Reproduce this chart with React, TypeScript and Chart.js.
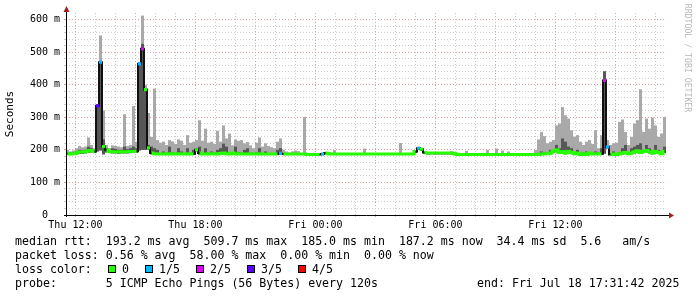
import React, { useEffect, useRef } from "react";
import { Chart, registerables } from "chart.js";

Chart.register(...registerables);

// ---- time axis (minutes since graph start, Thu 11:31:42) ----
const STEP_MIN = 9;
const SPAN_MIN = 1800;
const FIRST_LABEL_MIN = 28.3; // Thu 12:00
const xTickLabels = ["Thu 12:00", "Thu 18:00", "Fri 00:00", "Fri 06:00", "Fri 12:00"];
const yTickLabels = ["0  ", "100 m", "200 m", "300 m", "400 m", "500 m", "600 m"];

// ---- series (ms) ----
const medianRtt = [
  188, 187, 188, 190, 193, 193, 194, 197, 198, 195,
  335, 469, 210, 200, 195, 194, 194, 193, 194, 194,
  194, 195, 195, 196, 464, 510, 385, 206, 190, 188,
  187, 187, 187, 188, 187, 188, 187, 188, 187, 187,
  188, 187, 188, 200, 190, 187, 187, 188, 187, 188,
  187, 189, 190, 188, 187, 190, 188, 187, 188, 187,
  187, 188, 187, 187, 188, 187, 187, 187, 187, 187,
  187, 189, 187, 187, 187, 187, 187, 187, 187, 187,
  186, 186, 186, 186, 186, 187, 190, 188, 187, 187,
  187, 187, 187, 187, 187, 187, 187, 187, 187, 187,
  187, 187, 187, 187, 187, 187, 187, 187, 187, 187,
  187, 187, 187, 187, 187, 187, 195, 205, 202, 192,
  190, 190, 190, 190, 190, 190, 190, 190, 190, 188,
  186, 186, 186, 186, 186, 186, 186, 186, 186, 186,
  186, 186, 186, 186, 186, 186, 186, 186, 186, 186,
  186, 186, 186, 186, 186, 186, 186, 186, 187, 188,
  188, 190, 196, 200, 192, 195, 190, 196, 192, 188,
  190, 186, 188, 186, 190, 187, 188, 187, 188, 413,
  209, 186, 187, 186, 188, 190, 192, 188, 190, 194,
  197, 192, 195, 198, 194, 190, 196, 192, 188, 195,
];

const smokeMin = [
  185, 184, 185, 186, 188, 188, 189, 191, 192, 190,
  195, 198, 186, 192, 190, 189, 189, 188, 189, 189,
  189, 190, 190, 191, 198, 200, 200, 200, 186, 184,
  184, 184, 184, 184, 184, 184, 184, 184, 184, 184,
  184, 184, 184, 195, 185, 184, 184, 184, 184, 184,
  184, 184, 185, 184, 184, 185, 184, 184, 184, 184,
  184, 184, 184, 184, 184, 184, 184, 184, 184, 184,
  184, 184, 184, 184, 184, 184, 184, 184, 184, 184,
  184, 184, 184, 184, 184, 184, 186, 184, 184, 184,
  184, 184, 184, 184, 184, 184, 184, 184, 184, 184,
  184, 184, 184, 184, 184, 184, 184, 184, 184, 184,
  184, 184, 184, 184, 184, 184, 190, 200, 197, 188,
  186, 186, 186, 186, 186, 186, 186, 186, 186, 184,
  184, 184, 184, 184, 184, 184, 184, 184, 184, 184,
  184, 184, 184, 184, 184, 184, 184, 184, 184, 184,
  184, 184, 184, 184, 184, 184, 184, 184, 184, 184,
  184, 186, 191, 195, 187, 190, 186, 191, 187, 184,
  186, 184, 184, 184, 186, 184, 184, 184, 184, 188,
  204, 184, 184, 184, 184, 186, 187, 184, 186, 189,
  192, 187, 190, 193, 189, 186, 191, 187, 184, 190,
];

const smokeMax = [
  200, 195, 198, 205, 212, 208, 210, 238, 215, 205,
  340, 551, 321, 215, 205, 214, 212, 210, 208, 309,
  212, 215, 334, 225, 470, 612, 400, 313, 240, 388,
  230, 222, 225, 215, 230, 226, 218, 232, 228, 215,
  245, 222, 225, 230, 291, 228, 265, 222, 225, 218,
  258, 225, 275, 235, 250, 214, 232, 228, 230, 220,
  224, 214, 205, 222, 238, 210, 220, 212, 208, 205,
  225, 235, 200, 195, 192, 195, 198, 196, 190, 301,
  186, 186, 186, 186, 186, 187, 192, 188, 187, 199,
  187, 187, 187, 187, 187, 187, 187, 187, 187, 204,
  187, 187, 187, 187, 187, 187, 187, 187, 187, 187,
  187, 221, 187, 187, 187, 187, 195, 207, 204, 192,
  190, 190, 190, 190, 190, 190, 190, 190, 196, 188,
  186, 186, 186, 197, 186, 186, 186, 186, 186, 186,
  200, 186, 186, 204, 186, 198, 186, 195, 186, 186,
  186, 186, 186, 186, 186, 186, 200, 232, 255, 242,
  220, 225, 230, 275, 281, 331, 306, 296, 260, 240,
  245, 225, 215, 225, 230, 218, 260, 205, 245, 441,
  230, 215, 220, 222, 286, 293, 255, 215, 240, 281,
  291, 386, 255, 296, 265, 299, 275, 240, 250, 301,
];

const smokeDark = [
  192, 190, 191, 195, 200, 198, 200, 210, 205, 198,
  335, 470, 232, 205, 200, 205, 203, 200, 200, 210,
  202, 205, 210, 205, 464, 525, 386, 215, 210, 205,
  200, 188, 195, 188, 210, 192, 188, 205, 195, 188,
  205, 188, 200, 205, 210, 190, 205, 188, 195, 188,
  200, 205, 219, 210, 188, 190, 210, 192, 188, 200,
  205, 188, 187, 192, 205, 188, 195, 188, 187, 187,
  200, 205, 187, 187, 187, 187, 187, 187, 187, 187,
  186, 186, 186, 186, 186, 187, 190, 188, 187, 187,
  187, 187, 187, 187, 187, 187, 187, 187, 187, 187,
  187, 187, 187, 187, 187, 187, 187, 187, 187, 187,
  187, 187, 187, 187, 187, 187, 195, 205, 202, 192,
  190, 190, 190, 190, 190, 190, 190, 190, 190, 188,
  186, 186, 186, 186, 186, 186, 186, 186, 186, 186,
  186, 186, 186, 186, 186, 186, 186, 186, 186, 186,
  186, 186, 186, 186, 186, 186, 186, 190, 195, 188,
  188, 200, 196, 215, 205, 235, 225, 210, 205, 188,
  200, 186, 188, 195, 190, 187, 195, 187, 205, 441,
  209, 186, 195, 186, 188, 205, 215, 188, 205, 210,
  215, 220, 200, 215, 205, 190, 215, 200, 188, 210,
];

// loss events: sample index -> lost pings out of 5
const lossIndex = [10, 11, 24, 25, 71, 85, 117, 179, 180];
const lossCount = [3, 1, 1, 2, 1, 1, 1, 2, 1];

const lossColors = ["#26ff00", "#00b8ff", "#dd00ff", "#5e00ff", "#ff0000"];
const lossLabels = ["0", "1/5", "2/5", "3/5", "4/5"];

const statsRtt = "median rtt:  193.2 ms avg  509.7 ms max  185.0 ms min  187.2 ms now  34.4 ms sd  5.6   am/s";
const statsLoss = "packet loss: 0.56 % avg  58.00 % max  0.00 % min  0.00 % now";
const probeText = "probe:       5 ICMP Echo Pings (56 Bytes) every 120s";
const endText = "end: Fri Jul 18 17:31:42 2025";
const watermark = "RRDTOOL / TOBI OETIKER";

const MINOR = "#cccccc";
const MAJOR = "#e2a0a0";
const MONO = "'DejaVu Sans Mono', monospace";

const lossAt = (i: number) => {
  const k = lossIndex.indexOf(i);
  return k < 0 ? 0 : lossCount[k];
};
const isJump = (a: number, b: number) =>
  lossAt(a) !== lossAt(b) || Math.abs(medianRtt[b] - medianRtt[a]) > 8;

const axesPlugin = {
  id: "rrdAxes",
  afterDatasetsDraw(chart: any) {
    const { ctx, chartArea: a } = chart;
    ctx.save();
    ctx.strokeStyle = "#000";
    ctx.lineWidth = 1;
    ctx.beginPath();
    ctx.moveTo(a.left + 0.5, a.bottom + 2);
    ctx.lineTo(a.left + 0.5, a.top - 2);
    ctx.moveTo(a.left - 2, a.bottom + 0.5);
    ctx.lineTo(a.right + 3, a.bottom + 0.5);
    ctx.stroke();
    ctx.fillStyle = "#a0201c";
    ctx.beginPath();
    ctx.moveTo(a.left + 0.5, a.top - 7);
    ctx.lineTo(a.left - 2.5, a.top - 1);
    ctx.lineTo(a.left + 3.5, a.top - 1);
    ctx.closePath();
    ctx.fill();
    ctx.beginPath();
    ctx.moveTo(a.right + 8, a.bottom + 0.5);
    ctx.lineTo(a.right + 3, a.bottom - 2.5);
    ctx.lineTo(a.right + 3, a.bottom + 3.5);
    ctx.closePath();
    ctx.fill();
    ctx.restore();
  },
};

export default function App() {
  const ref = useRef<HTMLCanvasElement | null>(null);

  useEffect(() => {
    if (!ref.current) return;
    const t = (i: number) => i * STEP_MIN + STEP_MIN / 2;
    const hourTicks = Array.from({ length: 30 }, (_, k) => FIRST_LABEL_MIN + 60 * k);
    const yTicks = Array.from({ length: 31 }, (_, k) => 20 * k);

    const chart = new Chart(ref.current, {
      type: "bar",
      data: {
        datasets: [
          {
            type: "bar",
            label: "smoke",
            data: smokeMax.map((v, i) => ({ x: t(i), y: [smokeMin[i], v] })) as any,
            backgroundColor: "#a9a9a9",
            borderWidth: 0,
            grouped: false,
            barThickness: 3,
            inflateAmount: 0,
            order: 4,
          } as any,
          {
            type: "bar",
            label: "smoke core",
            data: smokeDark.map((v, i) => ({ x: t(i), y: [smokeMin[i], v] })) as any,
            backgroundColor: "#575757",
            borderWidth: 0,
            grouped: false,
            barThickness: 3,
            inflateAmount: 0,
            order: 3,
          } as any,
          {
            type: "line",
            label: "median",
            data: medianRtt.map((v, i) => ({ x: t(i), y: v })) as any,
            borderColor: "#111111",
            borderWidth: 2,
            stepped: "middle",
            pointRadius: 0,
            order: 2,
          } as any,
          {
            type: "line",
            label: "median loss",
            data: medianRtt.map((v, i) => ({ x: t(i), y: v })) as any,
            borderColor: lossColors[0],
            borderWidth: 3,
            stepped: "middle",
            segment: {
              borderColor: (c: any) =>
                isJump(c.p0DataIndex, c.p1DataIndex)
                  ? "rgba(0,0,0,0)"
                  : lossColors[lossAt(c.p0DataIndex)],
            },
            pointStyle: "rect",
            pointBorderWidth: 0,
            pointRadius: (c: any) => {
              const i = c.dataIndex;
              const n = medianRtt.length;
              const iso = (i === 0 || isJump(i - 1, i)) && (i === n - 1 || isJump(i, i + 1));
              return lossAt(i) > 0 || iso ? 2.2 : 0;
            },
            pointBackgroundColor: (c: any) => lossColors[lossAt(c.dataIndex)],
            order: 1,
          } as any,
        ],
      },
      options: {
        responsive: false,
        animation: false,
        devicePixelRatio: 1,
        layout: { padding: { top: 13, right: 31, bottom: 62, left: 0 } },
        plugins: { legend: { display: false }, tooltip: { enabled: false } },
        scales: {
          x: {
            type: "linear",
            min: 0,
            max: SPAN_MIN,
            offset: false,
            afterBuildTicks: (s: any) => {
              s.ticks = hourTicks.map((v) => ({ value: v }));
            },
            afterFit: (s: any) => {
              s.height = 20;
            },
            ticks: {
              autoSkip: false,
              maxRotation: 0,
              padding: 2,
              color: "#000",
              font: { family: MONO, size: 10 },
              callback: (_v: any, i: number) => (i % 6 === 0 ? xTickLabels[i / 6] : ""),
            },
            grid: {
              offset: false,
              color: (c: any) => (c.index % 3 === 0 ? MAJOR : MINOR),
              lineWidth: 1,
              drawTicks: true,
              tickLength: 2,
            },
            border: { display: false, dash: [1, 2] },
          },
          y: {
            type: "linear",
            min: 0,
            max: 620,
            afterBuildTicks: (s: any) => {
              s.ticks = yTicks.map((v) => ({ value: v }));
            },
            afterFit: (s: any) => {
              s.width = 66;
            },
            ticks: {
              autoSkip: false,
              padding: 4,
              color: "#000",
              font: { family: MONO, size: 10 },
              callback: (_v: any, i: number) => (i % 5 === 0 ? yTickLabels[i / 5] : ""),
            },
            grid: {
              color: (c: any) => (c.index % 5 === 0 ? MAJOR : MINOR),
              lineWidth: 1,
              drawTicks: true,
              tickLength: 2,
            },
            border: { display: false, dash: [1, 2] },
            title: {
              display: true,
              text: "Seconds",
              color: "#000",
              font: { family: MONO, size: 11 },
              padding: { top: 4, bottom: 0 },
            },
          },
        },
      } as any,
      plugins: [axesPlugin],
    });
    return () => chart.destroy();
  }, []);

  const text: React.CSSProperties = {
    position: "absolute",
    fontFamily: MONO,
    fontSize: "11.6px",
    lineHeight: "14px",
    whiteSpace: "pre",
    color: "#000",
  };
  const boxLeft = [108, 145, 196, 247, 298];
  const labelLeft = [122, 159, 210, 261, 312];

  return (
    <div
      style={{
        position: "absolute",
        left: 0,
        top: 0,
        width: 697,
        height: 297,
        background: "#ffffff",
        overflow: "hidden",
      }}
    >
      <canvas ref={ref} width={697} height={297} style={{ display: "block" }} />
      <div style={{ ...text, left: 15, top: 234 }}>{statsRtt}</div>
      <div style={{ ...text, left: 15, top: 248 }}>{statsLoss}</div>
      <div style={{ ...text, left: 15, top: 262 }}>loss color:</div>
      {lossLabels.map((l, k) => (
        <React.Fragment key={l}>
          <div
            style={{
              position: "absolute",
              left: boxLeft[k],
              top: 265,
              width: 8,
              height: 8,
              boxSizing: "border-box",
              border: "1px solid #000",
              background: lossColors[k],
            }}
          />
          <div style={{ ...text, left: labelLeft[k], top: 262 }}>{l}</div>
        </React.Fragment>
      ))}
      <div style={{ ...text, left: 15, top: 276 }}>{probeText}</div>
      <div style={{ ...text, left: 477, top: 276 }}>{endText}</div>
      <div
        style={{
          position: "absolute",
          left: 688 - 60,
          top: 58 - 5,
          width: 120,
          height: 10,
          lineHeight: "10px",
          textAlign: "center",
          fontFamily: MONO,
          fontSize: "8.2px",
          color: "#b8b8b8",
          whiteSpace: "pre",
          transform: "rotate(90deg)",
          transformOrigin: "center",
        }}
      >
        {watermark}
      </div>
    </div>
  );
}
